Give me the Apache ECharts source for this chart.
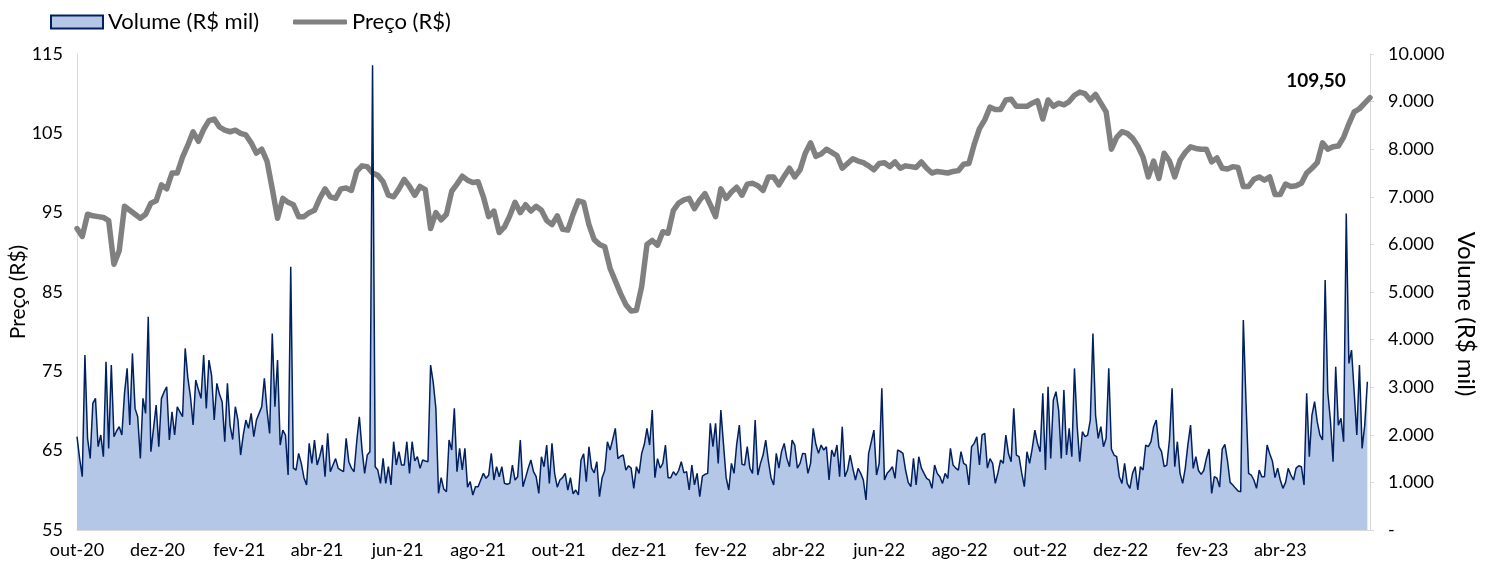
<!DOCTYPE html>
<html><head><meta charset="utf-8">
<script src="https://cdn.jsdelivr.net/npm/echarts@6/dist/echarts.min.js"></script>
<style>html,body{margin:0;padding:0;background:#fff}#chart{width:1488px;height:565px}</style>
</head><body><div id="chart"></div>
<script>
// ---- data ----
const startDate = '2020-10-01';
const priceStepDays = 4;   // price sampled every 4 calendar days from startDate
const volumeStepDays = 2;  // volume sampled every 2 calendar days from startDate
const seriesNames = ['Volume (R$ mil)', 'Preço (R$)'];
const tickDates = ['2020-10-01','2020-12-01','2021-02-01','2021-04-01','2021-06-01','2021-08-01','2021-10-01','2021-12-01','2022-02-01','2022-04-01','2022-06-01','2022-08-01','2022-10-01','2022-12-01','2023-02-01','2023-04-01'];
const tickLabels = ['out-20','dez-20','fev-21','abr-21','jun-21','ago-21','out-21','dez-21','fev-22','abr-22','jun-22','ago-22','out-22','dez-22','fev-23','abr-23'];

const price = [
93.0,92.0,94.8,94.6,94.5,94.4,94.0,88.5,90.2,95.8,
95.3,94.8,94.3,94.8,96.2,96.5,98.5,98.0,100.0,100.0,
102.0,103.5,105.2,104.0,105.5,106.6,106.8,105.8,105.4,105.2,
105.4,105.0,104.8,103.8,102.5,103.0,101.5,98.0,94.3,96.8,
96.3,96.0,94.5,94.5,95.0,95.3,96.8,98.0,97.0,96.8,
98.0,98.1,97.8,100.2,100.9,100.8,100.0,99.7,98.9,97.2,
97.0,98.0,99.2,98.3,97.2,98.3,97.9,93.0,95.0,94.1,
94.8,97.7,98.6,99.6,99.1,98.8,98.9,97.0,94.5,95.2,
92.5,93.2,94.6,96.3,95.0,96.0,95.2,95.8,95.3,94.0,
93.5,94.6,92.9,92.8,94.8,96.5,96.3,93.5,91.6,91.0,
90.7,88.0,86.4,84.8,83.4,82.6,82.7,85.7,91.0,91.5,
90.9,92.6,92.4,95.3,96.2,96.6,96.8,95.5,96.6,97.4,
96.0,94.5,98.0,96.8,97.6,98.2,97.2,98.6,98.7,98.4,
97.8,99.5,99.5,98.5,99.6,100.6,99.5,100.4,102.5,103.8,
102.1,102.4,103.0,102.6,102.2,100.6,101.2,101.8,101.5,101.3,
100.9,100.4,101.2,101.3,100.8,101.4,100.6,100.9,100.8,100.7,
101.4,100.6,100.0,100.2,100.1,100.0,100.2,100.3,101.1,101.2,
103.6,105.6,106.7,108.3,108.0,108.0,109.2,109.3,108.4,108.4,
108.4,108.8,109.1,106.8,109.2,108.4,108.8,108.6,109.0,109.8,
110.2,110.0,109.2,109.9,108.8,107.7,103.0,104.5,105.2,105.0,
104.4,103.4,102.0,99.5,101.5,99.3,102.5,101.5,99.5,101.6,
102.6,103.3,103.1,103.0,103.0,101.4,101.9,100.6,100.5,100.8,
100.7,98.3,98.3,99.2,99.5,99.1,99.5,97.3,97.3,98.6,
98.3,98.4,98.7,100.0,100.6,101.3,103.8,103.0,103.3,103.4,
104.5,106.2,107.7,108.1,108.8,109.5
];

const volume = [
1960,1500,1120,3675,1925,1505,2660,2765,1750,1995,
1540,3535,1715,3465,1960,2080,2170,1995,2870,3395,
2205,3710,2555,2380,1505,2765,2450,4480,1645,2135,
2625,1750,2765,2900,3010,1890,2485,1995,2590,2480,
2380,3815,3200,2800,2205,3150,2950,2765,3675,2555,
3570,3250,2310,3080,2850,2695,1855,3080,2200,1900,
2590,2310,1575,1995,2310,2135,2450,1960,2310,2450,
2590,3185,2520,2030,4130,2590,3570,1785,2100,1995,
1155,5530,1300,1260,1610,1400,1100,945,1820,1400,
1890,1365,1550,1785,1120,2030,1225,1365,1500,1295,
1260,1225,1925,1435,1300,1225,1855,2380,1700,1190,
1575,1645,9765,1330,1260,980,1505,980,1330,945,
1855,1365,1645,1365,1365,1855,1190,1855,1450,1540,
1295,1470,1450,1435,3465,3100,2555,770,1100,860,
805,1890,1680,2555,1225,1715,1260,1715,900,1015,
735,910,910,1050,1190,1085,1150,1610,1050,1330,
1120,1330,980,960,980,1365,1050,1120,1890,910,
1100,1300,1470,1225,1120,770,1540,1330,1785,980,
1820,1190,900,1050,1100,1190,840,1100,760,840,
735,1470,1600,1015,1750,1300,1200,1435,700,1100,
1250,1855,1680,1900,2135,1500,1550,1575,1260,1350,
1300,875,1330,1190,1610,1800,2135,1785,2520,1100,
1500,1300,1400,1785,1100,1100,1225,1150,1250,1435,
1200,1225,840,1365,950,1190,700,1130,1170,1190,
2240,1750,2240,1400,2520,1800,1100,840,1400,1190,
1800,2205,1380,1365,1750,1300,1190,2310,1155,1400,
1575,1890,1450,1100,945,1610,1300,1650,1820,1505,
1330,1890,1785,1300,1400,1610,1600,1190,1400,2135,
1800,1610,1785,1680,1750,1050,1680,1540,1785,1120,
2170,1120,1260,1575,1295,1050,1295,1190,1050,630,
1610,1850,2100,1155,1400,2975,1050,1190,1250,1330,
1085,1680,1650,1610,1260,1000,910,1505,945,1540,
1300,1190,1085,1050,875,1365,1190,1120,980,1190,
1085,1715,1365,1300,1260,1645,1400,1365,945,1750,
1820,1960,1365,2000,2030,1300,1500,1400,980,1200,
1470,1400,1995,1600,1435,2555,1575,1540,1200,910,
1645,1400,1715,2100,1820,1645,2870,1260,3010,1505,
2730,2905,2520,1505,2940,1575,2135,1540,3395,2200,
1435,2065,1960,1995,2310,4130,2415,1925,2170,1750,
1925,3395,1700,1575,1540,1120,980,1400,980,875,
1190,1330,840,1330,1260,1785,1750,1855,2170,2310,
1750,1645,1330,1365,1890,2975,1330,1855,1190,980,
1300,1800,2205,1295,1540,1250,1170,1250,1505,1700,
770,1120,1090,900,1700,1800,1450,1000,945,880,
820,805,4410,2700,1190,1155,1050,875,1260,1120,
1120,1785,1600,1450,1100,1300,1050,875,1000,1295,
1155,1050,1300,1350,1330,945,2870,1540,2415,2695,
2275,2000,1890,5250,2900,2300,1435,3430,2200,2345,
1855,6650,3500,3780,2905,1995,3465,1715,2200,3115
];

// ---- build ----
const DAY = 86400000;
const t0 = Date.parse(startDate);
const dayOf = s => Math.round((Date.parse(s) - t0) / DAY);
const tickDays = tickDates.map(dayOf);
const lastDay = (price.length - 1) * priceStepDays;
const lastPrice = price[price.length - 1];

const volData = volume.map((v, i) => [i * volumeStepDays, v]);
const priceData = price.map((v, i) => [i * priceStepDays, v]);

const FONT = 'Lato';
const fmtThousands = v => v === 0 ? '-' : String(v).replace(/\B(?=(\d{3})+(?!\d))/g, '.');

const chart = echarts.init(document.getElementById('chart'), null, { renderer: 'canvas' });
chart.setOption({
  animation: false,
  backgroundColor: '#fff',
  textStyle: { fontFamily: FONT },
  legend: [
    { left: 50, top: 11, padding: 0, itemWidth: 52, itemHeight: 13,
      textStyle: { fontFamily: FONT, fontSize: 22, color: '#000' },
      data: [{ name: seriesNames[0], icon: 'rect',
        itemStyle: { color: '#b4c7e7', borderColor: '#002060', borderWidth: 2 } }] },
    { left: 293, top: 11, padding: 0, itemWidth: 54, itemHeight: 5,
      textStyle: { fontFamily: FONT, fontSize: 22, color: '#000' },
      data: [{ name: seriesNames[1], icon: 'roundRect', itemStyle: { color: '#808080' } }] }
  ],
  grid: { left: 77, right: 118, top: 54, bottom: 35, containLabel: false, outerBoundsMode: 'none' },
  xAxis: {
    type: 'value', min: 0, max: lastDay,
    axisLine: { show: true, lineStyle: { color: '#d9d9d9', width: 1 } },
    axisTick: { show: false },
    splitLine: { show: false },
    axisLabel: {
      customValues: tickDays,
      formatter: v => { const i = tickDays.indexOf(v); return i >= 0 ? tickLabels[i] : ''; },
      fontFamily: FONT, fontSize: 18, color: '#000', margin: 11, hideOverlap: false
    }
  },
  yAxis: [
    { type: 'value', min: 55, max: 115, interval: 10, position: 'left',
      name: seriesNames[1], nameLocation: 'middle', nameRotate: 90, nameGap: 48, nameMoveOverlap: false,
      nameTextStyle: { fontFamily: FONT, fontSize: 21, color: '#000' },
      axisLine: { show: true, lineStyle: { color: '#d9d9d9', width: 1 } },
      axisTick: { show: false },
      splitLine: { show: false },
      axisLabel: { fontFamily: FONT, fontSize: 18, color: '#000', margin: 14 } },
    { type: 'value', min: 0, max: 10000, interval: 1000, position: 'right',
      name: seriesNames[0], nameLocation: 'middle', nameRotate: -90, nameGap: 84, nameMoveOverlap: false,
      nameTextStyle: { fontFamily: FONT, fontSize: 24, color: '#000', padding: [0, 0, 0, 44] },
      axisLine: { show: true, lineStyle: { color: '#d9d9d9', width: 1 } },
      axisTick: { show: true, length: 4, lineStyle: { color: '#d9d9d9' } },
      splitLine: { show: false },
      axisLabel: { fontFamily: FONT, fontSize: 18, color: '#000', margin: 18, formatter: fmtThousands } }
  ],
  series: [
    { name: seriesNames[1], type: 'line', yAxisIndex: 0, data: priceData,
      showSymbol: false, symbol: 'none', z: 2,
      lineStyle: { color: '#808080', width: 5.5, join: 'round', cap: 'round' },
      itemStyle: { color: '#808080' },
      markPoint: {
        symbol: 'circle', symbolSize: 1, itemStyle: { color: 'rgba(0,0,0,0)' },
        label: { show: true, position: 'top', distance: 7, offset: [-54, 0],
          formatter: () => lastPrice.toFixed(2).replace('.', ','),
          fontFamily: FONT, fontWeight: 'bold', fontSize: 19, color: '#000' },
        data: [{ coord: [lastDay, lastPrice] }]
      } },
    { name: seriesNames[0], type: 'line', yAxisIndex: 1, data: volData,
      showSymbol: false, symbol: 'none', z: 3,
      lineStyle: { color: '#002060', width: 1.5 },
      itemStyle: { color: '#b4c7e7' },
      areaStyle: { color: '#b4c7e7', opacity: 1 } }
  ]
});
</script></body></html>
